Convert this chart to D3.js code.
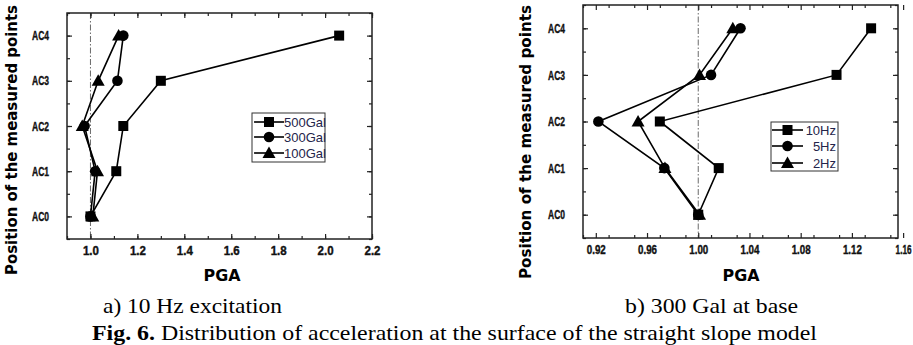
<!DOCTYPE html>
<html lang="en">
<head>
<meta charset="UTF-8">
<script src="https://d3js.org/d3.v7.min.js"></script>
<style>
  body { margin: 0; background: #fff; }
  svg { display: block; }
</style>
</head>
<body>
<script>
// measured points (y categories)
const positions = ["AC0", "AC1", "AC2", "AC3", "AC4"];

// a) 10 Hz excitation
const pga500Gal = [1.00, 1.11, 1.14, 1.30, 2.06];
const pga300Gal = [1.00, 1.02, 0.975, 1.115, 1.14];
const pga100Gal = [1.01, 1.03, 0.965, 1.033, 1.12];
const ticksA = [1.0, 1.2, 1.4, 1.6, 1.8, 2.0, 2.2];

// b) 300 Gal at base
const pga10Hz = [1.000, 1.016, 0.970, 1.108, 1.135];
const pga5Hz = [1.000, 0.9735, 0.922, 1.010, 1.033];
const pga2Hz = [1.001, 0.974, 0.953, 1.001, 1.027];
const ticksB = [0.92, 0.96, 1.00, 1.04, 1.08, 1.12, 1.16];

const w = 913, h = 345;
const svg = d3.select("body").append("svg").attr("width", w).attr("height", h);
svg.append("rect").attr("width", w).attr("height", h).attr("fill", "#fff");

function marker(g, shape, cx, cy) {
    if (shape === "square") {
        g.append("rect").attr("x", cx - 5).attr("y", cy - 5).attr("width", 10).attr("height", 10).attr("fill", "#000");
    } else if (shape === "circle") {
        g.append("circle").attr("cx", cx).attr("cy", cy).attr("r", 5.3).attr("fill", "#000");
    } else {
        g.append("path").attr("d", `M${cx},${cy - 6.5}L${cx + 6.5},${cy + 5}L${cx - 6.5},${cy + 5}Z`).attr("fill", "#000");
    }
}

function boldLabel(sel, len) {
    sel.style("font-family", "'Liberation Sans', Arial, sans-serif").style("font-weight", "bold")
        .style("font-size", "13px").attr("fill", "#111")
        .attr("stroke", "#111").attr("stroke-width", 0.4)
        .attr("textLength", len).attr("lengthAdjust", "spacingAndGlyphs");
}

function panel(o) {
    const x = d3.scaleLinear().domain(o.xDomain).range(o.xRange);
    const y = d3.scaleLinear().domain([-0.5, 4.5]).range(o.yRange);
    const g = svg.append("g");
    const [x0, x1] = o.xRange, [y1, y0] = o.yRange;

    // reference line at PGA = 1
    g.append("line")
        .attr("x1", x(1)).attr("x2", x(1)).attr("y1", y0).attr("y2", y1)
        .attr("stroke", "#444").attr("stroke-width", 0.8)
        .attr("stroke-dasharray", "6,2,1.5,2");

    const minorX = d3.range(o.xDomain[0], o.xDomain[1] + 1e-9, o.minorStep);
    const minorY = d3.range(-0.5, 4.6, 0.5);

    const styleAxis = a => {
        a.select(".domain").remove();
        a.selectAll("line").attr("stroke", "#222").attr("stroke-width", 1.2);
    };

    // minor ticks all sides
    g.append("g").attr("transform", `translate(0,${y1})`)
        .call(d3.axisBottom(x).tickValues(minorX).tickSize(-3).tickFormat("")).call(styleAxis);
    g.append("g").attr("transform", `translate(0,${y0})`)
        .call(d3.axisTop(x).tickValues(minorX).tickSize(-3).tickFormat("")).call(styleAxis);
    g.append("g").attr("transform", `translate(${x0},0)`)
        .call(d3.axisLeft(y).tickValues(minorY).tickSize(-3).tickFormat("")).call(styleAxis);
    g.append("g").attr("transform", `translate(${x1},0)`)
        .call(d3.axisRight(y).tickValues(minorY).tickSize(-3).tickFormat("")).call(styleAxis);

    // major ticks
    const xb = g.append("g").attr("transform", `translate(0,${y1})`)
        .call(d3.axisBottom(x).tickValues(o.ticks).tickSize(-5).tickPadding(7).tickFormat(o.fmt))
        .call(styleAxis);
    xb.selectAll("text").call(boldLabel, (d, i, n) => i === n.length - 1 ? o.lastLabelLen : o.xLabelLen);
    g.append("g").attr("transform", `translate(0,${y0})`)
        .call(d3.axisTop(x).tickValues(o.ticks).tickSize(-5).tickFormat("")).call(styleAxis);
    const yl = g.append("g").attr("transform", `translate(${x0},0)`)
        .call(d3.axisLeft(y).tickValues([0, 1, 2, 3, 4]).tickSize(-5).tickPadding(18).tickFormat(i => positions[i]))
        .call(styleAxis);
    yl.selectAll("text").call(boldLabel, 17);
    g.append("g").attr("transform", `translate(${x1},0)`)
        .call(d3.axisRight(y).tickValues([0, 1, 2, 3, 4]).tickSize(-5).tickFormat("")).call(styleAxis);

    // frame
    g.append("rect").attr("x", x0).attr("y", y0).attr("width", x1 - x0).attr("height", y1 - y0)
        .attr("fill", "none").attr("stroke", "#222").attr("stroke-width", 1.5);

    // series
    const line = d3.line().x(d => x(d[0])).y(d => y(d[1]));
    o.series.forEach(s => {
        const pts = s.values.map((v, i) => [v, i]);
        g.append("path").datum(pts).attr("d", line)
            .attr("fill", "none").attr("stroke", "#000").attr("stroke-width", 1.6);
        pts.forEach(p => marker(g, s.shape, x(p[0]), y(p[1])));
    });

    // legend
    const L = o.legend;
    g.append("rect").attr("x", L.x).attr("y", L.y).attr("width", L.w).attr("height", L.h)
        .attr("fill", "#fff").attr("stroke", "#333").attr("stroke-width", 1);
    o.series.forEach((s, i) => {
        const cy = L.rows[i];
        g.append("line").attr("x1", L.lx0).attr("x2", L.lx1).attr("y1", cy).attr("y2", cy)
            .attr("stroke", "#000").attr("stroke-width", 1.6);
        marker(g, s.shape, (L.lx0 + L.lx1) / 2, cy);
        g.append("text").attr("x", L.tx).attr("y", cy + 4.5)
            .attr("text-anchor", L.anchor)
            .attr("font-family", "Liberation Sans, Arial, sans-serif").attr("font-size", 13)
            .attr("fill", "#24244a").text(s.name);
    });

    // axis titles
    g.append("text").attr("x", o.pgaX).attr("y", 281).attr("text-anchor", "middle")
        .attr("font-family", "DejaVu Sans, sans-serif").attr("font-weight", "bold")
        .attr("font-size", 15).attr("textLength", 37).attr("lengthAdjust", "spacingAndGlyphs")
        .text("PGA");
    g.append("text")
        .attr("transform", `translate(${o.titleX},${o.titleY}) rotate(-90)`)
        .attr("text-anchor", "middle")
        .attr("font-family", "DejaVu Sans, sans-serif").attr("font-weight", "bold")
        .attr("font-size", 15).attr("textLength", o.titleLen).attr("lengthAdjust", "spacingAndGlyphs")
        .text("Position of the measured points");
}

panel({
    xDomain: [0.9, 2.2], xRange: [67, 372], yRange: [239, 13],
    ticks: ticksA, minorStep: 0.1, fmt: d3.format(".1f"), xLabelLen: 16, lastLabelLen: 16,
    series: [
        { name: "500Gal", values: pga500Gal, shape: "square" },
        { name: "300Gal", values: pga300Gal, shape: "circle" },
        { name: "100Gal", values: pga100Gal, shape: "triangle" }
    ],
    legend: { x: 252, y: 113, w: 73, h: 49, rows: [122, 137, 153], lx0: 254, lx1: 284, tx: 284, anchor: "start" },
    pgaX: 222, titleX: 17, titleY: 140, titleLen: 270
});

panel({
    xDomain: [0.91, 1.156], xRange: [583, 898], yRange: [238, 5],
    ticks: ticksB, minorStep: 0.02, fmt: d3.format(".2f"), xLabelLen: 19, lastLabelLen: 16,
    series: [
        { name: "10Hz", values: pga10Hz, shape: "square" },
        { name: "5Hz", values: pga5Hz, shape: "circle" },
        { name: "2Hz", values: pga2Hz, shape: "triangle" }
    ],
    legend: { x: 771, y: 122, w: 67, h: 49, rows: [130, 146, 163], lx0: 772, lx1: 803, tx: 836, anchor: "end" },
    pgaX: 741, titleX: 531, titleY: 142, titleLen: 274
});

// captions
const serif = "'Liberation Serif', 'Times New Roman', serif";
svg.append("text").attr("x", 103).attr("y", 313).attr("font-family", serif).attr("font-size", 22)
    .attr("textLength", 179).attr("lengthAdjust", "spacingAndGlyphs").text("a) 10 Hz excitation");
svg.append("text").attr("x", 625).attr("y", 313).attr("font-family", serif).attr("font-size", 22)
    .attr("textLength", 173).attr("lengthAdjust", "spacingAndGlyphs").text("b) 300 Gal at base");
const cap = svg.append("text").attr("x", 92).attr("y", 340).attr("font-family", serif).attr("font-size", 22)
    .attr("textLength", 725).attr("lengthAdjust", "spacingAndGlyphs");
cap.append("tspan").attr("font-weight", "bold").text("Fig. 6.");
cap.append("tspan").text(" Distribution of acceleration at the surface of the straight slope model");
</script>
</body>
</html>
